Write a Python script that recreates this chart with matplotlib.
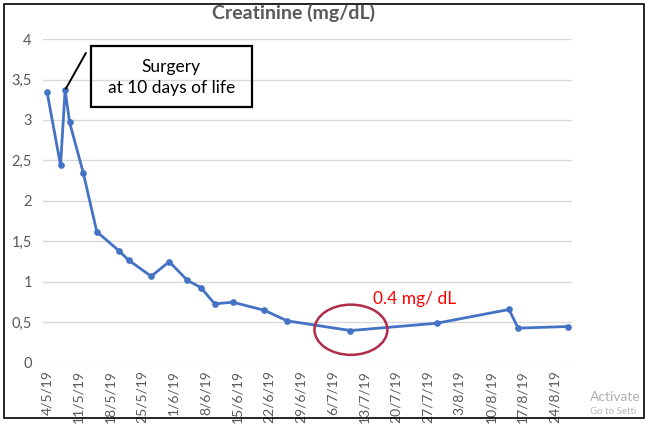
import matplotlib
matplotlib.use("Agg")
import matplotlib.pyplot as plt
import matplotlib.dates as mdates
from matplotlib.patches import Ellipse, Rectangle
import pandas as pd

# values
dates = ["2019-05-04", "2019-05-07", "2019-05-08", "2019-05-09", "2019-05-12",
         "2019-05-15", "2019-05-20", "2019-05-22", "2019-05-27", "2019-05-31",
         "2019-06-04", "2019-06-07", "2019-06-10", "2019-06-14", "2019-06-21",
         "2019-06-26", "2019-07-10", "2019-07-29", "2019-08-14", "2019-08-16",
         "2019-08-27"]
creatinine = [3.35, 2.44, 3.37, 2.97, 2.35, 1.62, 1.38, 1.27, 1.07, 1.25,
              1.02, 0.93, 0.73, 0.75, 0.65, 0.52, 0.40, 0.49, 0.66, 0.43, 0.45]
y_ticks = [0, 0.5, 1, 1.5, 2, 2.5, 3, 3.5, 4]
y_labels = ["0", "0,5", "1", "1,5", "2", "2,5", "3", "3,5", "4"]
x_ticks = pd.date_range("2019-05-04", "2019-08-24", freq="7D")

plt.rcParams['font.family'] = ['Lato', 'DejaVu Sans']
grey = "#595959"
blue = "#4472C4"

x = mdates.date2num(pd.to_datetime(dates))

fig = plt.figure(figsize=(6.5, 4.24), dpi=100)
ax = fig.add_axes([0.066, 0.144, 0.814, 0.764])

ax.plot(x, creatinine, color=blue, lw=2.0, marker="o", markersize=3.8,
        solid_joinstyle="round", zorder=3)

ax.set_ylim(0, 4)
ax.set_yticks(y_ticks)
ax.set_yticklabels(y_labels)
x0 = mdates.date2num(pd.Timestamp("2019-05-04"))
ax.set_xlim(x0 - 0.9, x0 + 115.9)
xt = mdates.date2num(x_ticks)
ax.set_xticks(xt)
ax.set_xticklabels([f"{d.day}/{d.month}/19" for d in x_ticks], rotation=90)

ax.grid(axis="y", color="#d9d9d9", lw=1)
ax.set_axisbelow(True)
for s in ax.spines.values():
    s.set_visible(False)
ax.tick_params(length=0, colors=grey)
ax.tick_params(axis="y", pad=8, labelsize=10.5)
ax.tick_params(axis="x", pad=5, labelsize=10)

fig.text(294 / 650, 1 - 13 / 424, "Creatinine (mg/dL)", ha="center", va="center",
         fontsize=14, fontweight="bold", color=grey)

# surgery note box
ax.add_patch(Rectangle((0.0907, 0.790), 0.304, 0.188, transform=ax.transAxes,
                       fill=False, ec="black", lw=1.6, clip_on=False, zorder=4))
ax.text(0.2425, 0.913, "Surgery", transform=ax.transAxes, ha="center",
        va="center", fontsize=12.5, color="black")
ax.text(0.2425, 0.848, "at 10 days of life", transform=ax.transAxes,
        ha="center", va="center", fontsize=12.5, color="black")
ax.annotate("", xy=(x[2], creatinine[2]), xytext=(0.0813, 0.957),
            textcoords="axes fraction",
            arrowprops=dict(arrowstyle="-", color="black", lw=1.4,
                            shrinkA=0, shrinkB=1))

# low point highlight
ax.add_patch(Ellipse((x[16] + 0.1, 0.41), 16.1, 0.62, fill=False,
                     ec="#B02C48", lw=1.8, zorder=4))
ax.text(x[16] + 4.9, 0.79, "0.4 mg/ dL", color="#FF0000", fontsize=12.5,
        ha="left", va="center")

# chart frame and screen watermark
fig.add_artist(Rectangle((4 / 650, 6 / 424), 640 / 650, 414 / 424,
                         transform=fig.transFigure, fill=False, ec="black",
                         lw=1.2))
fig.text(590 / 650, 1 - 397 / 424, "Activate", color="#b0b0b0", fontsize=10,
         va="center")
fig.text(590 / 650, 1 - 412 / 424, "Go to Setti", color="#b8b8b8", fontsize=7,
         va="center")

fig.savefig("out.png", dpi=100)
